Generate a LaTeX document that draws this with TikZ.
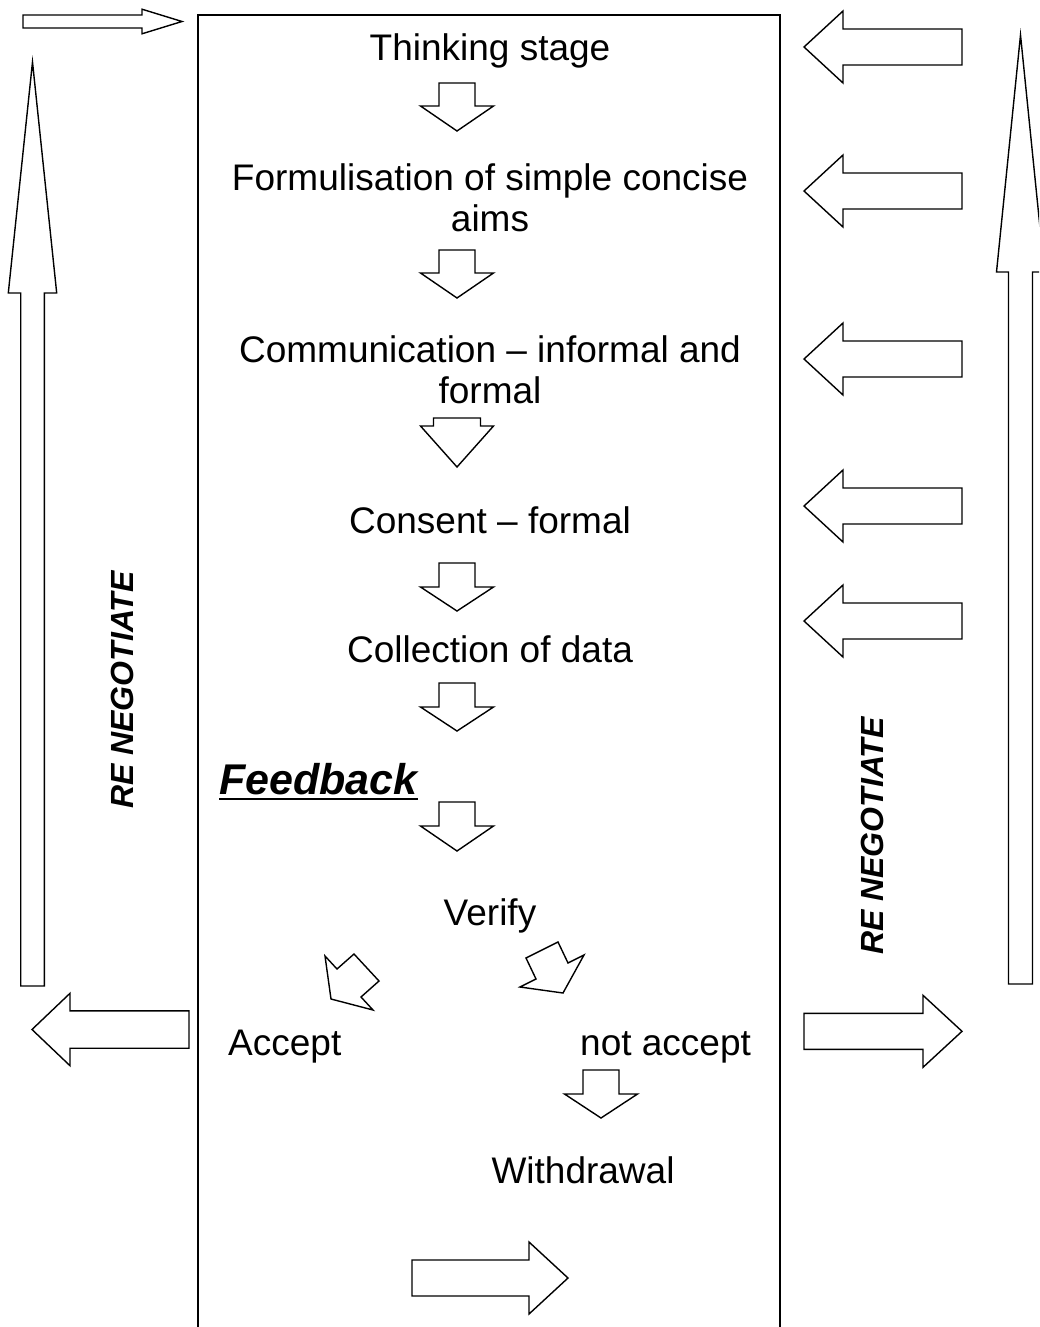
\documentclass[tikz,border=0pt]{standalone}
\usepackage{fontspec}
\setmainfont{Liberation Sans}
\newcommand\myvarrow[6]{% cx, tail y, head y, tip y, shaft half, head half
  \draw[arr] ({#1-#5},#2) -- ({#1-#5},#3) -- ({#1-#6},#3) -- (#1,#4) -- ({#1+#6},#3) -- ({#1+#5},#3) -- ({#1+#5},#2) -- cycle;}
\newcommand\myharrow[6]{% cy, tail x, head x, tip x, shaft half, head half
  \draw[arr] (#2,{#1-#5}) -- (#3,{#1-#5}) -- (#3,{#1-#6}) -- (#4,#1) -- (#3,{#1+#6}) -- (#3,{#1+#5}) -- (#2,{#1+#5}) -- cycle;}
\begin{document}
\begin{tikzpicture}[x=1pt,y=-1pt,
  arr/.style={draw=black,line width=1.4pt,line join=miter,fill=white},
  lbl/.style={font=\fontsize{37}{41}\selectfont,inner sep=0pt,anchor=base},
  reneg/.style={font=\fontsize{32}{36}\selectfont\bfseries\itshape,inner sep=0pt,rotate=90}]
\clip (0,0) rectangle (1039,1327);
\fill[white] (0,0) rectangle (1039,1327);
% main frame
\draw[line width=1.6pt] (198,1330) -- (198,15) -- (780,15) -- (780,1330);

% texts
\node[lbl] (think) at (490,61) {Thinking stage};
\node[lbl] (form1) at (490,190) {Formulisation of simple concise};
\node[lbl] (form2) at (490,231) {aims};
\node[lbl] (comm1) at (490,362) {Communication – informal and};
\node[lbl] (comm2) at (490,403) {formal};
\node[lbl] (cons) at (490,533) {Consent – formal};
\node[lbl] (coll) at (490,662) {Collection of data};
\node[lbl,anchor=base west,font=\fontsize{43}{47}\selectfont\bfseries\itshape] (feed) at (219,794) {Feedback};
\draw[line width=2.6pt] ([yshift=-5pt]feed.base west) -- ([yshift=-5pt]feed.base east);
\node[lbl] (verify) at (490,925) {Verify};
\node[lbl,anchor=base west] (accept) at (228,1055) {Accept};
\node[lbl,anchor=base west] (notacc) at (580,1055) {not accept};
\node[lbl] (withd) at (583,1183) {Withdrawal};
\node[reneg] (rnl) at (122,690) {RE NEGOTIATE};
\node[reneg] (rnr) at (872,836) {RE NEGOTIATE};

% down arrows in the frame
\myvarrow{457}{83}{106}{131}{18}{36.5}
\myvarrow{457}{250}{273}{298}{18}{36.5}
\myvarrow{457}{418}{426}{467}{23.5}{36.5}
\myvarrow{457}{563}{587}{611}{18}{36.5}
\myvarrow{457}{683}{707}{731}{18}{36.5}
\myvarrow{457}{802}{826}{851}{18}{36.5}
\myvarrow{601}{1070}{1094}{1118}{18}{36.5}

% diagonal arrows
\draw[arr] (325,956) -- (337,969) -- (354,954) -- (379,981) -- (361,997) -- (373,1010) -- (331,999) -- cycle;
\draw[arr] (526,958) -- (558,942) -- (568,963) -- (584,955) -- (563,993) -- (520,987) -- (536,979) -- cycle;

% top-left small arrow
\myharrow{21.5}{23}{142}{182}{6.5}{12.3}
% long up arrows
\myvarrow{32.5}{986}{293}{62}{11.8}{24.2}
\myvarrow{1020.5}{984}{272}{35}{12}{24}
% right-side left-pointing arrows
\myharrow{47}{962}{843}{804}{18}{36}
\myharrow{191}{962}{843}{804}{18}{36}
\myharrow{359}{962}{843}{804}{18}{36}
\myharrow{506}{962}{843}{804}{18}{36}
\myharrow{621}{962}{843}{804}{18}{36}
% bottom side arrows
\myharrow{1029.5}{189}{70}{32}{18.7}{36.2}
\myharrow{1031.3}{804}{923}{962}{18}{36}
\myharrow{1278}{412}{529}{568}{18}{36}
\end{tikzpicture}
\end{document}
